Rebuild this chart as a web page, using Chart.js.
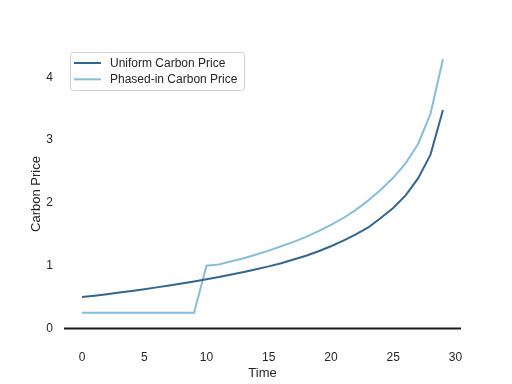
<!DOCTYPE html>
<html lang="en">

<head>
    <meta charset="UTF-8">
    <title>Carbon Price</title>
    <script src="https://cdn.jsdelivr.net/npm/chart.js"></script>
    <style>
        body {
            margin: 0;
            background: #fff;
        }

        canvas {
            display: block;
        }
    </style>
</head>

<body>
    <canvas id="priceChart" width="512" height="384"></canvas>

    <script>
        // values
        const timeSteps = [0, 1, 2, 3, 4, 5, 6, 7, 8, 9, 10, 11, 12, 13, 14, 15, 16, 17, 18, 19, 20, 21, 22, 23, 24, 25, 26, 27, 28, 29];
        const uniformPrice = [0.50, 0.523, 0.547, 0.572, 0.598, 0.626, 0.655, 0.685, 0.717, 0.75, 0.785, 0.82, 0.86, 0.90, 0.945, 0.99, 1.04, 1.10, 1.16, 1.23, 1.31, 1.40, 1.50, 1.61, 1.76, 1.92, 2.12, 2.39, 2.77, 3.48];
        const phasedPrice = [0.25, 0.25, 0.25, 0.25, 0.25, 0.25, 0.25, 0.25, 0.25, 0.25, 1.00, 1.02, 1.07, 1.12, 1.18, 1.24, 1.31, 1.38, 1.46, 1.55, 1.65, 1.76, 1.89, 2.04, 2.21, 2.40, 2.63, 2.94, 3.42, 4.29];
        const xTicks = [0, 5, 10, 15, 20, 25, 30];
        const yTicks = [0, 1, 2, 3, 4];

        const font = "'Liberation Sans', Arial, sans-serif";
        const textColor = '#262626';

        const toPoints = vals => timeSteps.map((t, i) => ({ x: t, y: vals[i] }));

        // black horizontal line at zero
        const zeroLine = {
            id: 'zeroLine',
            beforeDatasetsDraw(chart) {
                const { ctx, chartArea, scales } = chart;
                const y = scales.y.getPixelForValue(0);
                ctx.save();
                ctx.strokeStyle = '#1a1a1a';
                ctx.lineWidth = 2;
                ctx.beginPath();
                ctx.moveTo(chartArea.left, y);
                ctx.lineTo(chartArea.right, y);
                ctx.stroke();
                ctx.restore();
            }
        };

        // legend box in the upper left corner of the plot
        const boxLegend = {
            id: 'boxLegend',
            afterDraw(chart) {
                const ctx = chart.ctx;
                const x0 = 70.5, y0 = 52.5, w = 174, h = 38;
                ctx.save();
                ctx.fillStyle = 'rgba(255,255,255,0.8)';
                ctx.strokeStyle = '#d0d0d0';
                ctx.lineWidth = 1;
                ctx.beginPath();
                ctx.roundRect(x0, y0, w, h, 3);
                ctx.fill();
                ctx.stroke();
                ctx.font = '12px ' + font;
                ctx.textBaseline = 'middle';
                chart.data.datasets.forEach((ds, i) => {
                    const y = 63 + i * 16.3;
                    ctx.strokeStyle = ds.borderColor;
                    ctx.lineWidth = 2;
                    ctx.beginPath();
                    ctx.moveTo(74, y);
                    ctx.lineTo(101, y);
                    ctx.stroke();
                    ctx.fillStyle = textColor;
                    ctx.fillText(ds.label, 110, y + 0.5);
                });
                ctx.restore();
            }
        };

        new Chart(document.getElementById('priceChart'), {
            type: 'line',
            data: {
                datasets: [{
                    label: 'Uniform Carbon Price',
                    data: toPoints(uniformPrice),
                    borderColor: '#33668f',
                    borderWidth: 2,
                    pointRadius: 0,
                    tension: 0
                }, {
                    label: 'Phased-in Carbon Price',
                    data: toPoints(phasedPrice),
                    borderColor: '#88bdda',
                    borderWidth: 2,
                    pointRadius: 0,
                    tension: 0
                }]
            },
            options: {
                responsive: false,
                devicePixelRatio: 1,
                animation: false,
                layout: { padding: { top: 46, right: 51, left: 0, bottom: 0 } },
                plugins: {
                    legend: { display: false },
                    tooltip: { enabled: false }
                },
                scales: {
                    x: {
                        type: 'linear',
                        min: -1.45,
                        max: 30.45,
                        afterBuildTicks: s => { s.ticks = xTicks.map(v => ({ value: v })); },
                        afterFit: s => { s.height = 42; },
                        grid: { display: false, drawTicks: false },
                        border: { display: false },
                        ticks: { color: textColor, font: { family: font, size: 12 }, padding: 8, maxRotation: 0 },
                        title: { display: true, text: 'Time', color: textColor, font: { family: font, size: 13 }, padding: { top: 4, bottom: 3 } }
                    },
                    y: {
                        min: -0.215,
                        max: 4.5,
                        afterBuildTicks: s => { s.ticks = yTicks.map(v => ({ value: v })); },
                        afterFit: s => { s.width = 64; },
                        grid: { display: false, drawTicks: false },
                        border: { display: false },
                        ticks: { color: textColor, font: { family: font, size: 12 }, padding: 11 },
                        title: { display: true, text: 'Carbon Price', color: textColor, font: { family: font, size: 13 }, padding: { top: 29, bottom: 0 } }
                    }
                }
            },
            plugins: [zeroLine, boxLegend]
        });
    </script>
</body>

</html>
